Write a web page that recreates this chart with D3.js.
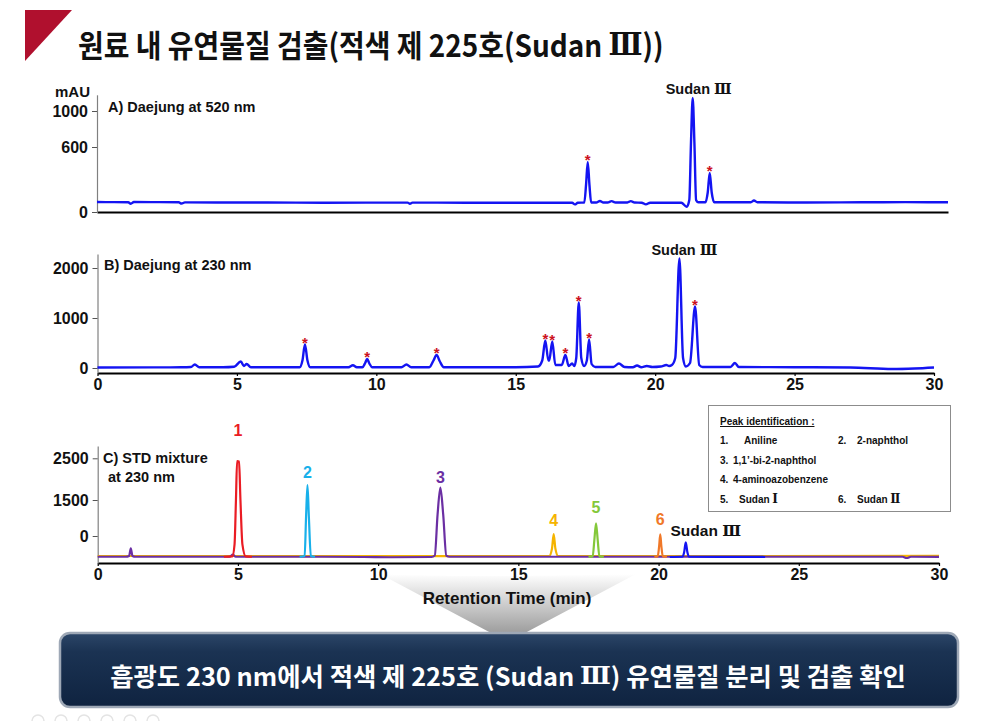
<!DOCTYPE html>
<html><head><meta charset="utf-8">
<script src="https://cdn.jsdelivr.net/npm/d3@7"></script>
<style>
body{margin:0;background:#fff}
svg{display:block}
text{font-family:"Liberation Sans",Arial,"Noto Sans CJK KR",sans-serif;font-weight:bold}
.kr{font-family:"Noto Sans CJK KR","Liberation Sans",sans-serif;font-weight:bold}
.rn{font-family:"DejaVu Serif",serif;font-weight:bold}
</style>
</head><body>
<svg id="c" width="997" height="721"></svg>
<script>
// ---------------- DATA ----------------
const timeTicks = [0, 5, 10, 15, 20, 25, 30];
const yTicksA = [0, 600, 1000];
const yTicksB = [0, 1000, 2000];
const yTicksC = [0, 1500, 2500];

// Panel A: Daejung at 520 nm  [time(min), mAU]
const traceA = [[0,92],[0.6,91],[1.1,90],[1.19,76],[1.3,92],[2.2,91],[2.88,90],[2.98,78],[3.1,89],[4.5,88],[6,88],[8,86],[9.5,87],[10.95,87],[11.03,76],[11.12,87],[13,86],[15,85],[16.0,86],[16.75,85],[16.85,70],[16.95,86],[17.18,88],[17.24,250],[17.3,462],[17.36,250],[17.42,88],[17.6,88],[17.73,102],[17.85,88],[18.0,88],[18.14,100],[18.28,88],[18.7,88],[18.82,100],[18.95,88],[19.2,86],[19.35,70],[19.5,86],[20.6,86],[20.79,48],[20.88,110],[20.94,650],[21.0,1144],[21.06,650],[21.12,110],[21.2,90],[21.45,90],[21.53,180],[21.6,361],[21.67,180],[21.76,90],[22,90],[23.05,90],[23.16,106],[23.28,90],[25,88],[27,90],[28.5,91],[30,90]];
const starsA = [17.3, 21.6];
const sudanA = 21.0;

// Panel B: Daejung at 230 nm
const traceB = [[0,10],[2.0,12],[3.0,15],[3.35,20],[3.49,70],[3.65,15],[4.5,15],[4.9,25],[5.14,130],[5.25,40],[5.35,80],[5.5,15],[7.25,15],[7.35,150],[7.44,470],[7.53,150],[7.63,15],[9.0,15],[9.16,55],[9.3,15],[9.5,15],[9.6,100],[9.67,180],[9.75,90],[9.85,15],[10.9,15],[11.08,70],[11.25,15],[11.9,15],[12.05,150],[12.16,260],[12.27,140],[12.42,15],[15.0,15],[15.8,30],[15.95,150],[16.06,550],[16.17,150],[16.2,150],[16.31,530],[16.42,60],[16.65,60],[16.78,260],[16.9,40],[17.02,90],[17.1,40],[17.17,200],[17.26,1310],[17.35,200],[17.45,40],[17.55,150],[17.63,570],[17.72,80],[17.85,20],[18.5,20],[18.7,90],[18.9,20],[19.2,15],[19.35,50],[19.5,15],[19.7,40],[19.9,20],[20.2,30],[20.4,60],[20.5,40],[20.6,60],[20.72,200],[20.87,2190],[21.0,200],[21.1,30],[21.25,100],[21.43,1230],[21.58,60],[21.7,20],[22.7,20],[22.86,100],[23.0,20],[25,15],[27,10],[28.5,-20],[29.3,-10],[30,10]];
const starsB = [7.44, 9.67, 12.16, 16.06, 16.31, 16.78, 17.26, 17.63, 21.43];
const sudanB = 20.87;

// Panel C: STD mixture at 230 nm
const traceC_yellow = [[0,-482],[5,-482],[10,-484],[16.1,-482],[16.2,-300],[16.26,83],[16.32,-300],[16.42,-482],[22,-482],[30,-480]];
const traceC_purple = [[0,-500],[1.0,-500],[1.12,-480],[1.18,-296],[1.24,-480],[1.35,-500],[3,-500],[4.7,-500],[4.82,-450],[4.92,-500],[8,-500],[9.5,-505],[10.5,-512],[11.9,-505],[12.02,-470],[12.12,900],[12.22,1795],[12.32,900],[12.43,-470],[12.55,-500],[15,-500],[20,-500],[25,-500],[28.7,-500],[28.85,-530],[29,-500],[30,-502]];
const traceC_red = [[4.5,-500],[4.8,-490],[4.88,-200],[4.93,1500],[4.97,2430],[5.04,2420],[5.09,1500],[5.16,-200],[5.28,-490],[5.5,-500]];
const traceC_cyan = [[7.2,-500],[7.38,-480],[7.43,800],[7.48,1860],[7.53,800],[7.6,-480],[7.75,-500]];
const traceC_green = [[17.5,-500],[17.65,-490],[17.71,-100],[17.77,530],[17.83,-100],[17.89,-490],[18.05,-500]];
const traceC_orange = [[19.85,-500],[19.97,-490],[20.02,-250],[20.06,70],[20.1,-250],[20.15,-490],[20.3,-500]];
const traceC_blue = [[20.4,-505],[20.85,-500],[20.91,-400],[20.97,-152],[21.03,-400],[21.09,-500],[23.8,-505]];
const peakLabelsC = ["1","2","3","4","5","6","Sudan Ⅲ"];
const peakTimesC = [5.0, 7.48, 12.22, 16.26, 17.77, 20.06, 20.97];

const legendRows = [
  [["1.","Aniline"],["2.","2-naphthol"]],
  [["3.","1,1’-bi-2-naphthol"]],
  [["4.","4-aminoazobenzene"]],
  [["5.","Sudan Ⅰ"],["6.","Sudan Ⅱ"]]
];

// ---------------- STYLE ----------------
const BLUE = "#1414f2";
const colC = {yellow:"#f5b400", purple:"#6b2fa3", red:"#ea1c24", cyan:"#18b0ea", green:"#84c83a", orange:"#f07828", blue:"#1414f2"};
const labelColC = ["#ea1c24","#18b0ea","#6b2fa3","#f5b400","#84c83a","#f07828","#111"];
const labelOffC = [[0,-31],[0,-13],[0,-11],[0,-14],[0,-16],[0,-15],[20,-12]];
const STAR = "#cc1020";

const svg = d3.select("#c");

// text with roman numerals rendered in a serif face
function richText(sel, str, rnSize){
  const parts = str.split(/([Ⅰ-Ⅻ]+)/);
  parts.forEach(p=>{
    if(!p) return;
    const ts = sel.append("tspan").text(p);
    if(/[Ⅰ-Ⅻ]/.test(p)){ ts.attr("class","rn"); if(rnSize) ts.attr("font-size",rnSize); }
  });
  return sel;
}
// squeeze a text horizontally to a target width
function fitWidth(sel, x, y, target){
  const w = sel.node().getComputedTextLength();
  sel.attr("x",0).attr("y",0).attr("transform",`translate(${x},${y}) scale(${target/w},1)`);
}

// ---------------- HEADER ----------------
svg.append("polygon").attr("points","25,10 72,10 25,61").attr("fill","#b0102e");
{
  const t = richText(svg.append("text").attr("class","kr")
    .attr("dominant-baseline","central").attr("font-size",31).attr("fill","#111"),
    "원료 내 유연물질 검출(적색 제 225호(Sudan Ⅲ))");
  fitWidth(t, 78, 43, 586);
}

// helpers
function yAxis(g, y, ticks){
  const ax = d3.axisLeft(y).tickValues(ticks).tickSize(5).tickSizeOuter(0).tickPadding(4).tickFormat(d3.format("d"));
  g.call(ax);
  g.select(".domain").attr("stroke","#808080").attr("stroke-width",1.2);
  g.selectAll(".tick line").attr("stroke","#555");
  g.selectAll(".tick text").attr("font-size",16).attr("fill","#111")
    .style("font-family","'Liberation Sans',Arial,sans-serif").style("font-weight","bold");
}
function xAxis(g, x, ticks){
  const ax = d3.axisBottom(x).tickValues(ticks).tickSize(3).tickSizeOuter(0).tickPadding(3);
  g.call(ax);
  g.select(".domain").attr("stroke","#000").attr("stroke-width",1.8);
  g.selectAll(".tick line").attr("stroke","#000").attr("stroke-width",1.2);
  g.selectAll(".tick text").attr("font-size",16).attr("fill","#111")
    .style("font-family","'Liberation Sans',Arial,sans-serif").style("font-weight","bold");
}
function lineGen(x,y){ return d3.line().x(d=>x(d[0])).y(d=>y(d[1])).curve(d3.curveMonotoneX); }
function apex(trace,t){ let best=trace[0]; trace.forEach(p=>{ if(Math.abs(p[0]-t)<Math.abs(best[0]-t)) best=p; }); return best; }
function stars(g, trace, times, x, y){
  times.forEach(t=>{
    const p = apex(trace,t);
    g.append("text").attr("x",x(p[0])).attr("y",y(p[1])+3).attr("text-anchor","middle")
      .attr("font-size",15).attr("fill",STAR).text("*");
  });
}

// ---------------- PANEL A ----------------
const xA = d3.scaleLinear().domain([0,30]).range([97,948]);
const yA = d3.scaleLinear().domain([0,600,1000,1180]).range([212,147,111,94.8]);
const gA = svg.append("g");
gA.append("g").attr("transform","translate(0,212)").call(g=>xAxis(g,xA,[]));
gA.append("g").attr("transform","translate(97,0)").call(g=>yAxis(g,yA,yTicksA));
gA.append("path").datum(traceA).attr("d",lineGen(xA,yA)).attr("fill","none").attr("stroke",BLUE).attr("stroke-width",2.4).attr("stroke-linejoin","round");
stars(gA, traceA, starsA, xA, yA);
gA.append("text").attr("x",55).attr("y",97).attr("font-size",15).attr("fill","#111").text("mAU");
gA.append("text").attr("x",108).attr("y",112).attr("font-size",14.5).attr("fill","#111").text("A) Daejung at 520 nm");
{ const p=apex(traceA,sudanA);
  richText(gA.append("text").attr("x",xA(p[0])+6).attr("y",yA(p[1])-4).attr("text-anchor","middle").attr("font-size",14.5).attr("fill","#111"),"Sudan Ⅲ"); }

// ---------------- PANEL B ----------------
const xB = d3.scaleLinear().domain([0,30]).range([97.5,934]);
const yB = d3.scaleLinear().domain([-100,2280]).range([373,254]);
const gB = svg.append("g");
gB.append("g").attr("transform","translate(0,373)").call(g=>xAxis(g,xB,timeTicks));
gB.append("g").attr("transform","translate(97.5,0)").call(g=>yAxis(g,yB,yTicksB));
gB.append("path").datum(traceB).attr("d",lineGen(xB,yB)).attr("fill","none").attr("stroke",BLUE).attr("stroke-width",2.4).attr("stroke-linejoin","round");
stars(gB, traceB, starsB, xB, yB);
gB.append("text").attr("x",104).attr("y",270).attr("font-size",14.5).attr("fill","#111").text("B) Daejung at 230 nm");
{ const p=apex(traceB,sudanB);
  richText(gB.append("text").attr("x",xB(p[0])+5).attr("y",yB(p[1])-4).attr("text-anchor","middle").attr("font-size",14.5).attr("fill","#111"),"Sudan Ⅲ"); }

// ---------------- PANEL C ----------------
const xC = d3.scaleLinear().domain([0,30]).range([97.7,939]);
const yC = d3.scaleLinear().domain([-650,0,1500,2500,2795]).range([563,536,500,458.3,446]);
const gC = svg.append("g");
gC.append("g").attr("transform","translate(0,563)").call(g=>xAxis(g,xC,timeTicks));
gC.append("g").attr("transform","translate(97.7,0)").call(g=>yAxis(g,yC,yTicksC));
const seriesC = [
  [traceC_yellow, colC.yellow],[traceC_purple, colC.purple],[traceC_red, colC.red],
  [traceC_cyan, colC.cyan],[traceC_green, colC.green],[traceC_orange, colC.orange],[traceC_blue, colC.blue]
];
seriesC.forEach(([tr,c])=>{
  gC.append("path").datum(tr).attr("d",lineGen(xC,yC)).attr("fill","none").attr("stroke",c).attr("stroke-width",2.2).attr("stroke-linejoin","round");
});
const allC = [].concat(traceC_red,traceC_cyan,traceC_purple,traceC_yellow,traceC_green,traceC_orange,traceC_blue);
peakLabelsC.forEach((lab,i)=>{
  const t = peakTimesC[i];
  const near = allC.filter(q=>Math.abs(q[0]-t)<0.05);
  const p = near.reduce((a,b)=>b[1]>a[1]?b:a);
  richText(gC.append("text").attr("x",xC(t)+labelOffC[i][0]).attr("y",yC(p[1])+labelOffC[i][1])
    .attr("dominant-baseline","central").attr("text-anchor","middle")
    .attr("font-size", i<6?16:15.5).attr("fill",labelColC[i]), lab);
});
gC.append("text").attr("x",103).attr("y",463).attr("font-size",14.5).attr("fill","#111").text("C) STD mixture");
gC.append("text").attr("x",108).attr("y",482).attr("font-size",14.5).attr("fill","#111").text("at 230 nm");

// legend box
const lg = svg.append("g");
lg.append("rect").attr("x",708.5).attr("y",405.5).attr("width",242).attr("height",106).attr("fill","#fff").attr("stroke","#8c8c8c").attr("stroke-width",1);
lg.append("text").attr("x",720).attr("y",425).attr("font-size",10).attr("fill","#111")
  .attr("text-decoration","underline").text("Peak identification :");
const rowY = [444, 463.5, 483, 502.5];
legendRows.forEach((row,ri)=>{
  row.forEach((item,ci)=>{
    const nx = ci===0 ? 720 : 838;
    const tx = ci===0 ? (ri===0 ? 744 : (ri===3 ? 739 : 733)) : 857;
    lg.append("text").attr("x",nx).attr("y",rowY[ri]).attr("font-size",10).attr("fill","#111").text(item[0]);
    richText(lg.append("text").attr("x",tx).attr("y",rowY[ri]).attr("font-size",10).attr("fill","#111"), item[1], 12);
  });
});

// ---------------- FOOTER ----------------
const defs = svg.append("defs");
const gr = defs.append("linearGradient").attr("id","funnel").attr("x1",0).attr("y1",0).attr("x2",0).attr("y2",1);
gr.append("stop").attr("offset","0%").attr("stop-color","#ffffff");
gr.append("stop").attr("offset","100%").attr("stop-color","#8e8e8e");
svg.insert("path","g").attr("d","M380,574 Q470,578 636,574 L508,642 Z").attr("fill","url(#funnel)");
svg.append("text").attr("x",507).attr("y",598).attr("text-anchor","middle").attr("dominant-baseline","central")
  .attr("font-size",17).attr("fill","#111").text("Retention Time (min)");

const bg = defs.append("linearGradient").attr("id","banner").attr("x1",0).attr("y1",0).attr("x2",0).attr("y2",1);
bg.append("stop").attr("offset","0%").attr("stop-color","#2c4668");
bg.append("stop").attr("offset","25%").attr("stop-color","#1b3353");
bg.append("stop").attr("offset","100%").attr("stop-color","#0f2340");
svg.append("rect").attr("x",60).attr("y",633).attr("width",898).attr("height",74).attr("rx",10)
  .attr("fill","url(#banner)").attr("stroke","#9ea8b6").attr("stroke-width",2.5);
{
  const t = richText(svg.append("text").attr("class","kr").attr("text-anchor","middle")
    .attr("dominant-baseline","central").attr("font-size",25).attr("fill","#fff"),
    "흡광도 230 nm에서 적색 제 225호 (Sudan Ⅲ) 유연물질 분리 및 검출 확인");
  fitWidth(t, 508, 675, 796);
}

svg.append("g").selectAll("circle").data([0,1,2,3,4,5]).join("circle")
  .attr("cx",d=>38+d*23).attr("cy",721).attr("r",6).attr("fill","none").attr("stroke","#e4e4e4").attr("stroke-width",1.5);
</script>
</body></html>
